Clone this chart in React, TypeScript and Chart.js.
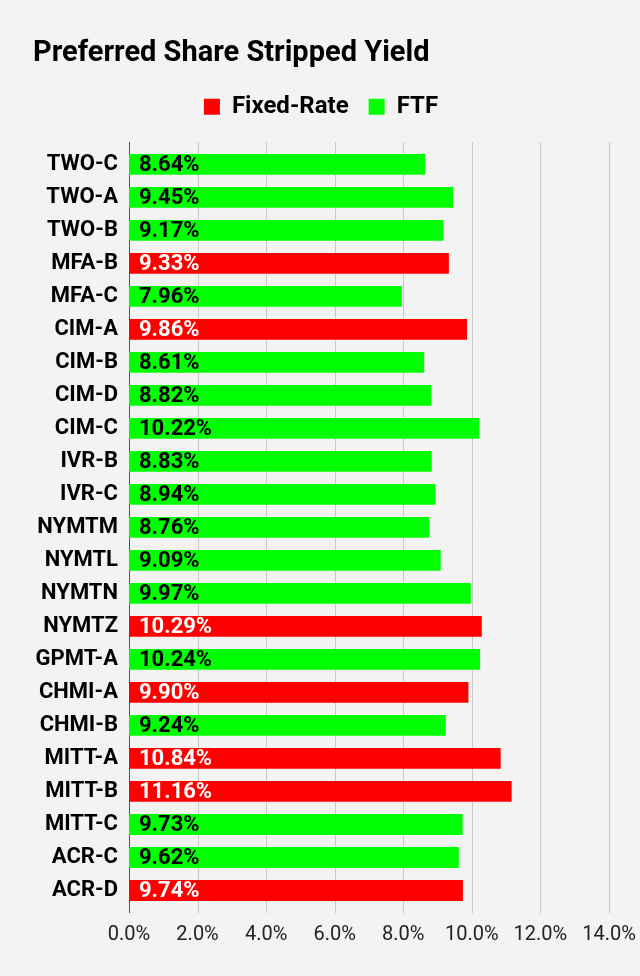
import React, { useEffect, useRef } from "react";
import { Chart, registerables } from "chart.js";

Chart.register(...registerables);

const categories = [
  "TWO-C", "TWO-A", "TWO-B", "MFA-B", "MFA-C", "CIM-A", "CIM-B", "CIM-D", "CIM-C",
  "IVR-B", "IVR-C", "NYMTM", "NYMTL", "NYMTN", "NYMTZ", "GPMT-A", "CHMI-A", "CHMI-B",
  "MITT-A", "MITT-B", "MITT-C", "ACR-C", "ACR-D",
];

const fixedRate: (number | null)[] = [
  null, null, null, 9.33, null, 9.86, null, null, null,
  null, null, null, null, null, 10.29, null, 9.90, null,
  10.84, 11.16, null, null, 9.74,
];

const ftf: (number | null)[] = [
  8.64, 9.45, 9.17, null, 7.96, null, 8.61, 8.82, 10.22,
  8.83, 8.94, 8.76, 9.09, 9.97, null, 10.24, null, 9.24,
  null, null, 9.73, 9.62, null,
];

const xTicks = [0, 2, 4, 6, 8, 10, 12, 14];

const FONT = "Roboto, 'Noto Sans', sans-serif";
const GRID_EXT = 6;

const barLabelPlugin = {
  id: "barLabels",
  afterDatasetsDraw(chart: any) {
    const ctx = chart.ctx;
    ctx.save();
    ctx.font = `bold 22px ${FONT}`;
    ctx.textBaseline = "middle";
    ctx.textAlign = "left";
    chart.data.datasets.forEach((ds: any, di: number) => {
      const meta = chart.getDatasetMeta(di);
      meta.data.forEach((bar: any, i: number) => {
        const v = ds.data[i];
        if (v === null || v === undefined) return;
        ctx.fillStyle = di === 0 ? "#ffffff" : "#000000";
        ctx.fillText(v.toFixed(2) + "%", bar.base + 10, bar.y + 1);
      });
    });
    ctx.restore();
  },
};

const bgGridPlugin = {
  id: "bgGrid",
  beforeDraw(chart: any) {
    const ctx = chart.ctx;
    ctx.save();
    ctx.fillStyle = "#f3f3f3";
    ctx.fillRect(0, 0, chart.width, chart.height);
    ctx.restore();
  },
  beforeDatasetsDraw(chart: any) {
    const ctx = chart.ctx;
    const xs = chart.scales.x;
    const area = chart.chartArea;
    ctx.save();
    xs.ticks.forEach((t: any) => {
      const x = Math.round(xs.getPixelForValue(t.value)) + 0.5;
      ctx.strokeStyle = t.value === 0 ? "#555555" : "#c8c8c8";
      ctx.lineWidth = 1;
      ctx.beginPath();
      ctx.moveTo(x, area.top - GRID_EXT);
      ctx.lineTo(x, area.bottom + GRID_EXT);
      ctx.stroke();
    });
    ctx.restore();
  },
};

const legendGapPlugin = {
  id: "legendGap",
  beforeInit(chart: any) {
    const legend = chart.legend;
    if (!legend) return;
    const orig = legend.fit;
    legend.fit = function () {
      orig.bind(legend)();
      this.height += 19;
    };
  },
};

export default function App() {
  const ref = useRef<HTMLCanvasElement | null>(null);

  useEffect(() => {
    document.body.style.margin = "0";
    document.body.style.background = "#f3f3f3";
    const canvas = ref.current;
    if (!canvas) return;
    const chart = new Chart(canvas, {
      type: "bar",
      data: {
        labels: categories,
        datasets: [
          {
            label: "Fixed-Rate",
            data: fixedRate,
            backgroundColor: "#ff0000",
            grouped: false,
            barPercentage: 0.63,
            categoryPercentage: 1,
          } as any,
          {
            label: "FTF",
            data: ftf,
            backgroundColor: "#00ff00",
            grouped: false,
            barPercentage: 0.63,
            categoryPercentage: 1,
          } as any,
        ],
      },
      options: {
        indexAxis: "y",
        animation: false,
        responsive: false,
        maintainAspectRatio: false,
        devicePixelRatio: 1,
        layout: { padding: { left: 33, right: 31, top: 0, bottom: 13 } },
        plugins: {
          title: {
            display: true,
            text: "Preferred Share Stripped Yield",
            align: "start",
            color: "#000000",
            font: { family: FONT, size: 29, weight: "bold" },
            padding: { top: 36, bottom: 4 },
          },
          legend: {
            display: true,
            position: "top",
            labels: {
              color: "#000000",
              boxWidth: 16,
              boxHeight: 16,
              padding: 20,
              font: { family: FONT, size: 24, weight: "bold" },
            },
          },
          tooltip: { enabled: false },
        },
        scales: {
          x: {
            type: "linear",
            min: 0,
            max: 14,
            afterBuildTicks(axis: any) {
              axis.ticks = xTicks.map((v) => ({ value: v }));
            },
            afterFit(axis: any) {
              axis.paddingRight = 0;
              axis.paddingLeft = 0;
            },
            ticks: {
              color: "#222222",
              font: { family: FONT, size: 20 },
              padding: 16,
              callback: (v: any) => Number(v).toFixed(1) + "%",
            },
            grid: { display: false, drawTicks: false },
            border: { display: false },
          },
          y: {
            afterFit(axis: any) {
              axis.width = 96;
            },
            ticks: {
              color: "#000000",
              font: { family: FONT, size: 22, weight: "bold" },
              padding: 11,
            },
            grid: { display: false, drawTicks: false },
            border: { display: false },
          },
        },
      },
      plugins: [bgGridPlugin, legendGapPlugin, barLabelPlugin],
    });
    return () => chart.destroy();
  }, []);

  return <canvas ref={ref} width={640} height={976} style={{ display: "block" }} />;
}
